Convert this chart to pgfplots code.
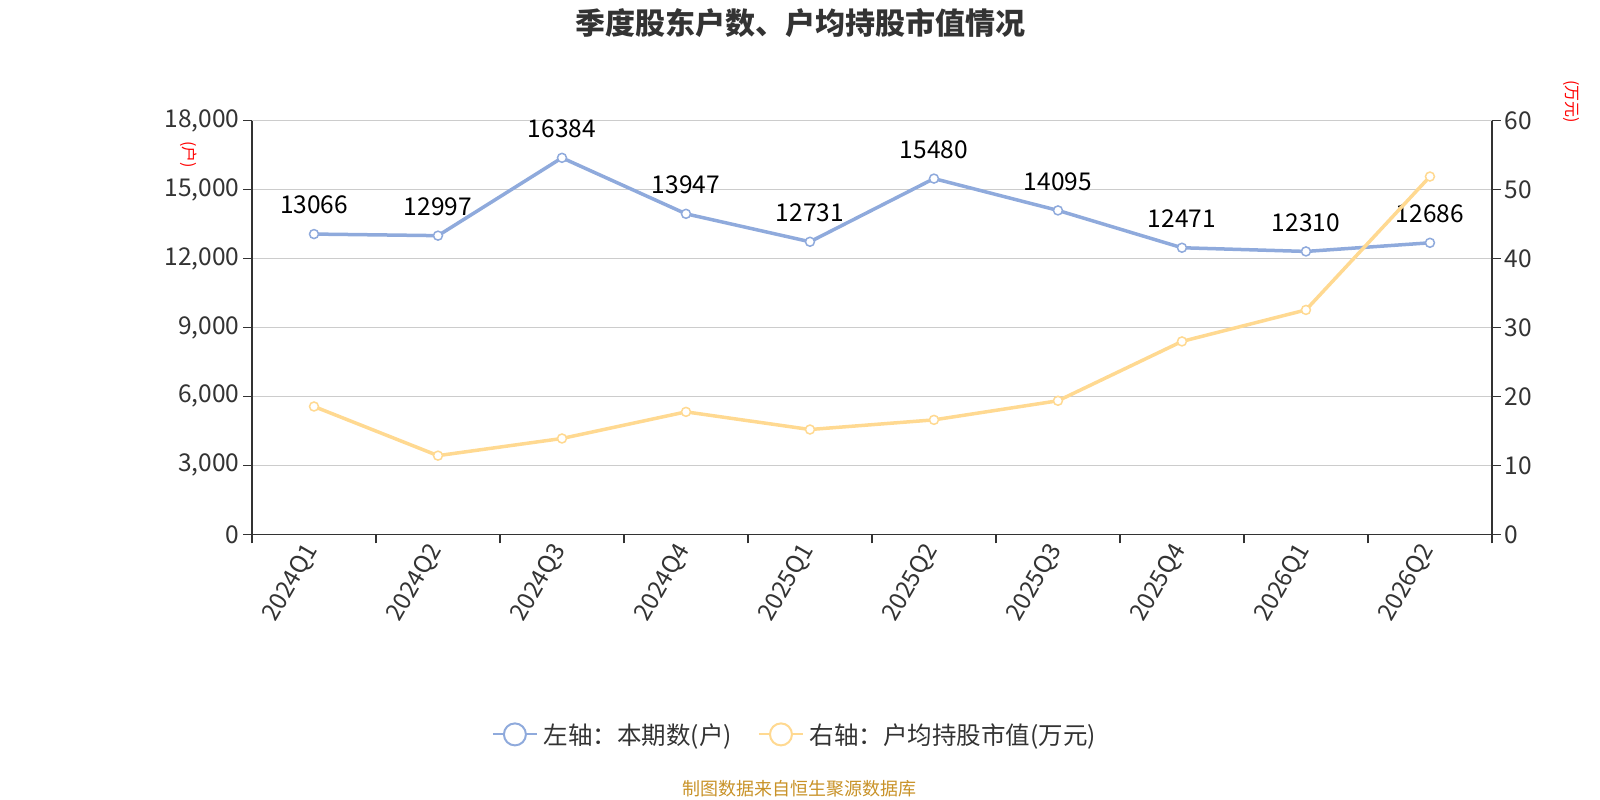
\documentclass[border=0pt]{standalone}
\usepackage{pgfplots}
\pgfplotsset{compat=1.18}
\usepackage{fontspec}
\setmainfont{Noto Sans CJK SC}
\definecolor{cblue}{RGB}{143,170,220}
\definecolor{cyellow}{RGB}{255,217,145}
\definecolor{ctext}{RGB}{51,51,51}
\definecolor{cgrid}{RGB}{204,204,204}
\definecolor{cfoot}{RGB}{200,146,40}
\begin{document}
\begin{tikzpicture}[x=1pt,y=1pt]
\path[use as bounding box] (0,0) rectangle (1600,800);
\begin{axis}[
  at={(252pt,265.7pt)}, anchor=south west,
  width=1240pt, height=413.6pt, scale only axis,
  xmin=-0.5, xmax=9.5, ymin=0, ymax=18000,
  axis x line*=bottom, axis y line*=left,
  axis line style={-, draw=ctext, line width=1.5pt},
  tick align=outside, major tick length=9pt,
  tick style={draw=ctext, line width=1.5pt},
  xtick={-0.5,0.5,...,9.5},
  xticklabels={2024Q1,2024Q2,2024Q3,2024Q4,2025Q1,2025Q2,2025Q3,2025Q4,2026Q1,2026Q2,{}},
  xticklabel style={xshift=62pt, rotate=60, anchor=east, font=\fontsize{24}{28}\selectfont, text=ctext},
  ytick={0,3000,...,18000},
  scaled y ticks=false,
  yticklabel style={font=\fontsize{24.5}{28}\selectfont, text=ctext},
  /pgf/number format/.cd, fixed, 1000 sep={,}, assume math mode=true, /pgfplots/.cd,
  ymajorgrids, major grid style={draw=cgrid, line width=1.5pt},
  clip=false,
]
\addplot[cblue, line width=3.5pt, mark=*, mark size=4.5pt,
  mark options={fill=white, draw=cblue, line width=1.5pt},
  nodes near coords, point meta=explicit symbolic,
  every node near coord/.append style={font=\fontsize{24.5}{28}\selectfont, text=black, yshift=16pt}]
coordinates {
(0,13066)[13066]
(1,12997)[12997]
(2,16384)[16384]
(3,13947)[13947]
(4,12731)[12731]
(5,15480)[15480]
(6,14095)[14095]
(7,12471)[12471]
(8,12310)[12310]
(9,12686)[12686]
};
\end{axis}
\begin{axis}[
  at={(252pt,265.7pt)}, anchor=south west,
  width=1240pt, height=413.6pt, scale only axis,
  xmin=-0.5, xmax=9.5, ymin=0, ymax=60,
  axis x line=none, axis y line*=right,
  axis line style={-, draw=ctext, line width=1.5pt},
  tick align=outside, major tick length=9pt,
  tick style={draw=ctext, line width=1.5pt},
  ytick={0,10,...,60},
  yticklabel style={font=\fontsize{24.5}{28}\selectfont, text=ctext},
  /pgf/number format/assume math mode=true,
  clip=false,
  legend style={at={(0.4379,-0.4838)}, anchor=center, draw=none, fill=none,
    font=\fontsize{24.5}{28}\selectfont, text=ctext, legend columns=2,
    /tikz/every even column/.append style={column sep=24pt},
    /tikz/every odd column/.append style={column sep=4pt}},
  legend cell align=left,
]
\addlegendimage{legend image code/.code={\draw[cblue,line width=2pt] (0pt,0pt)--(44pt,0pt); \draw[cblue,fill=white,line width=2pt] (22pt,0pt) circle (11pt);}}
\addlegendentry{左轴：本期数(户)}
\addplot[cyellow, line width=3.5pt, mark=*, mark size=4.5pt,
  mark options={fill=white, draw=cyellow, line width=1.5pt}, forget plot]
coordinates {
(0,18.54)
(1,11.41)
(2,13.90)
(3,17.76)
(4,15.20)
(5,16.60)
(6,19.37)
(7,27.98)
(8,32.55)
(9,51.90)
};
\addlegendimage{legend image code/.code={\draw[cyellow,line width=2pt] (0pt,0pt)--(44pt,0pt); \draw[cyellow,fill=white,line width=2pt] (22pt,0pt) circle (11pt);}}
\addlegendentry{右轴：户均持股市值(万元)}
\end{axis}
\node[font=\bfseries\fontsize{30}{35}\selectfont, text=ctext] at (800,777) {季度股东户数、户均持股市值情况};
\node[font=\fontsize{16}{18}\selectfont, text=red, rotate=-90] at (189,645) {(户)};
\node[font=\fontsize{16}{18}\selectfont, text=red, rotate=-90] at (1571,698) {(万元)};
\node[font=\fontsize{18}{20}\selectfont, text=cfoot] at (799,11) {制图数据来自恒生聚源数据库};
\end{tikzpicture}
\end{document}
